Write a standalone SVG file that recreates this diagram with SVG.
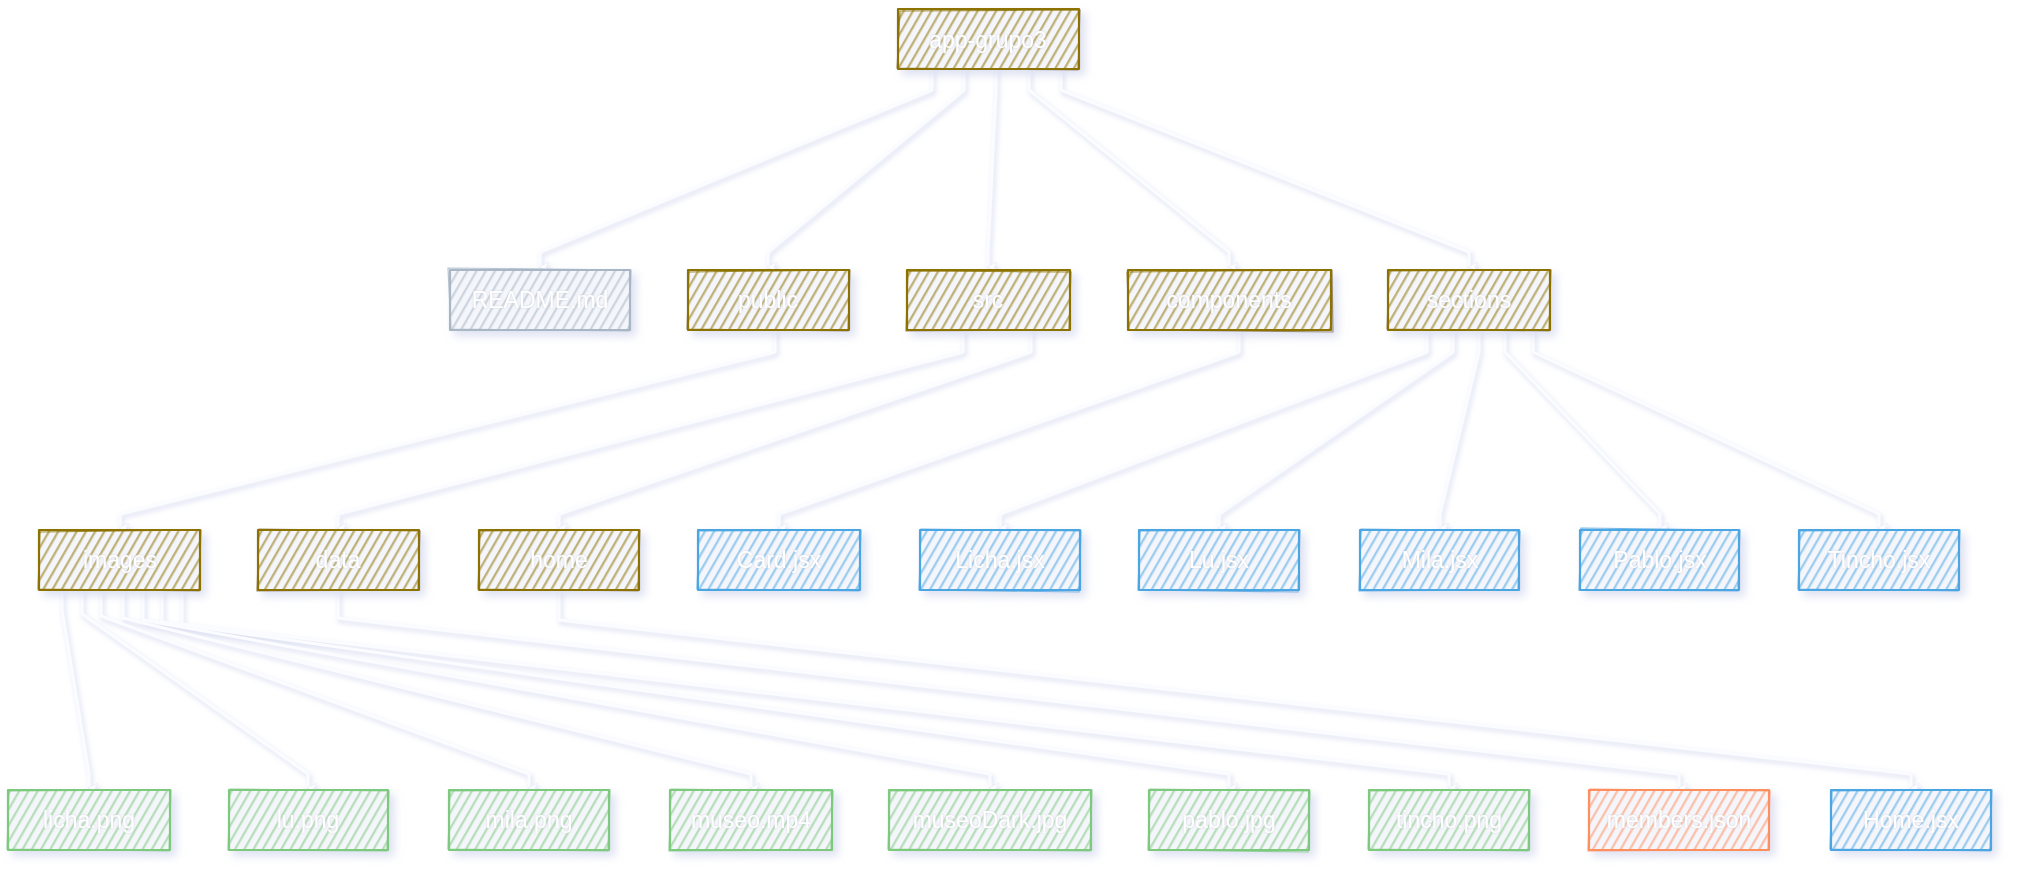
<svg xmlns="http://www.w3.org/2000/svg" width="2024" height="886" viewBox="0 0 2024 886">
<style>
.box{stroke-width:2.2;stroke-linejoin:round}
.box2{fill:none;stroke-width:1.2;opacity:.8}
.folder{stroke:#8c7200}
.gray{stroke:#a8b6c5}
.blue{stroke:#4ba6e2}
.green{stroke:#7dc97d}
.orange{stroke:#ff8f5e}
.lbl{font-family:"Liberation Sans","DejaVu Sans",sans-serif;font-size:23px;fill:#ffffff;text-anchor:middle;dominant-baseline:central}
.edge{fill:none;stroke:#fbfcff;stroke-width:3;stroke-linecap:round;stroke-linejoin:round}
</style>
<defs>
<filter id="sh" x="-20%" y="-30%" width="150%" height="170%">
<feDropShadow dx="5" dy="5" stdDeviation="4" flood-color="#c3c9e6" flood-opacity="0.55"/>
</filter>
<filter id="esh" x="-10%" y="-10%" width="120%" height="130%">
<feDropShadow dx="2" dy="3" stdDeviation="2.5" flood-color="#bcc3e6" flood-opacity="0.6"/>
</filter>
<filter id="tsh" x="-10%" y="-30%" width="120%" height="160%">
<feDropShadow dx="0" dy="0" stdDeviation="1.2" flood-color="#cfd2dc" flood-opacity="0.9"/>
</filter>
<pattern id="hf" width="8" height="8" patternUnits="userSpaceOnUse" patternTransform="rotate(30)"><rect width="8" height="8" fill="#f5f6fb"/><line x1="4" y1="0" x2="4" y2="8" stroke="#8c7200" stroke-width="1"/><line x1="5" y1="0" x2="5.4" y2="8" stroke="#8c7200" stroke-width="0.5" opacity=".5"/></pattern>
<pattern id="hg" width="8" height="8" patternUnits="userSpaceOnUse" patternTransform="rotate(30)"><rect width="8" height="8" fill="#f5f6fb"/><line x1="4" y1="0" x2="4" y2="8" stroke="#a8b6c5" stroke-width="1"/><line x1="5" y1="0" x2="5.4" y2="8" stroke="#a8b6c5" stroke-width="0.5" opacity=".5"/></pattern>
<pattern id="hb" width="8" height="8" patternUnits="userSpaceOnUse" patternTransform="rotate(30)"><rect width="8" height="8" fill="#f5f6fb"/><line x1="4" y1="0" x2="4" y2="8" stroke="#4ba6e2" stroke-width="1"/><line x1="5" y1="0" x2="5.4" y2="8" stroke="#4ba6e2" stroke-width="0.5" opacity=".5"/></pattern>
<pattern id="hgr" width="8" height="8" patternUnits="userSpaceOnUse" patternTransform="rotate(30)"><rect width="8" height="8" fill="#f5f6fb"/><line x1="4" y1="0" x2="4" y2="8" stroke="#7dc97d" stroke-width="1"/><line x1="5" y1="0" x2="5.4" y2="8" stroke="#7dc97d" stroke-width="0.5" opacity=".5"/></pattern>
<pattern id="ho" width="8" height="8" patternUnits="userSpaceOnUse" patternTransform="rotate(30)"><rect width="8" height="8" fill="#f5f6fb"/><line x1="4" y1="0" x2="4" y2="8" stroke="#ff8f5e" stroke-width="1"/><line x1="5" y1="0" x2="5.4" y2="8" stroke="#ff8f5e" stroke-width="0.5" opacity=".5"/></pattern>
<marker id="ar" viewBox="0 0 12 12" refX="6" refY="10" markerWidth="12" markerHeight="12" markerUnits="userSpaceOnUse" orient="auto-start-reverse">
<path d="M1,1 L6,11 L11,1 L6,4 Z" fill="#ffffff" stroke="#eceef8" stroke-width="0.8"/>
</marker>
</defs>

<g id="connectors" filter="url(#esh)">
<path class="edge" marker-end="url(#ar)" d="M932 70 L932 90 L540 252 L540 267"/>
<path class="edge" marker-end="url(#ar)" d="M964 70 L964 90 L768 252 L768 267"/>
<path class="edge" marker-end="url(#ar)" d="M996 70 L996 90 L988 252 L988 267"/>
<path class="edge" marker-end="url(#ar)" d="M1029 70 L1029 90 L1229 252 L1229 267"/>
<path class="edge" marker-end="url(#ar)" d="M1061 70 L1061 90 L1469 252 L1469 267"/>
<path class="edge" marker-end="url(#ar)" d="M775 331 L775 352 L120 514 L120 528"/>
<path class="edge" marker-end="url(#ar)" d="M963 331 L963 352 L338 514 L338 528"/>
<path class="edge" marker-end="url(#ar)" d="M1031 331 L1031 352 L559 514 L559 528"/>
<path class="edge" marker-end="url(#ar)" d="M1239 331 L1239 352 L779 514 L779 528"/>
<path class="edge" marker-end="url(#ar)" d="M1427 331 L1427 352 L1000 514 L1000 528"/>
<path class="edge" marker-end="url(#ar)" d="M1453 331 L1453 352 L1219 514 L1219 528"/>
<path class="edge" marker-end="url(#ar)" d="M1479 331 L1479 352 L1440 514 L1440 528"/>
<path class="edge" marker-end="url(#ar)" d="M1505 331 L1505 352 L1660 514 L1660 528"/>
<path class="edge" marker-end="url(#ar)" d="M1533 331 L1533 352 L1879 514 L1879 528"/>
<path class="edge" marker-end="url(#ar)" d="M62 591 L62 610 L89 774 L89 788"/>
<path class="edge" marker-end="url(#ar)" d="M82 591 L82 614 L308 774 L308 788"/>
<path class="edge" marker-end="url(#ar)" d="M101 591 L101 616 L529 774 L529 788"/>
<path class="edge" marker-end="url(#ar)" d="M123 591 L123 618 L751 774 L751 788"/>
<path class="edge" marker-end="url(#ar)" d="M143 591 L143 620 L990 774 L990 788"/>
<path class="edge" marker-end="url(#ar)" d="M162 591 L162 622 L1229 774 L1229 788"/>
<path class="edge" marker-end="url(#ar)" d="M182 591 L182 624 L1449 774 L1449 788"/>
<path class="edge" marker-end="url(#ar)" d="M338 591 L338 618 L1679 774 L1679 788"/>
<path class="edge" marker-end="url(#ar)" d="M559 591 L559 620 L1911 774 L1911 788"/>
</g>

<g id="root" filter="url(#sh)">
<rect class="box folder" x="898" y="9" width="181" height="60" fill="url(#hf)"/>
<path class="box2 folder" d="M900 11 L1080 10 L1078 70 L897 68 Z"/>
<text class="lbl" x="988" y="40" filter="url(#tsh)">app-grupo3</text>
</g>

<g id="readme" filter="url(#sh)">
<rect class="box gray" x="450" y="270" width="180" height="60" fill="url(#hg)"/>
<path class="box2 gray" d="M448 268 L631 270 L629 331 L451 329 Z"/>
<text class="lbl" x="540" y="300" filter="url(#tsh)">README.md</text>
</g>
<g id="public" filter="url(#sh)">
<rect class="box folder" x="688" y="270" width="161" height="60" fill="url(#hf)"/>
<path class="box2 folder" d="M689 272 L850 270 L848 331 L687 329 Z"/>
<text class="lbl" x="768" y="300" filter="url(#tsh)">public</text>
</g>
<g id="src" filter="url(#sh)">
<rect class="box folder" x="907" y="270" width="163" height="60" fill="url(#hf)"/>
<path class="box2 folder" d="M908 271 L1071 272 L1069 330 L906 331 Z"/>
<text class="lbl" x="988" y="300" filter="url(#tsh)">src</text>
</g>
<g id="components" filter="url(#sh)">
<rect class="box folder" x="1128" y="270" width="203" height="60" fill="url(#hf)"/>
<path class="box2 folder" d="M1127 272 L1332 270 L1333 332 L1129 330 Z"/>
<text class="lbl" x="1229" y="300" filter="url(#tsh)">components</text>
</g>
<g id="sections" filter="url(#sh)">
<rect class="box folder" x="1388" y="270" width="162" height="60" fill="url(#hf)"/>
<path class="box2 folder" d="M1389 271 L1551 270 L1549 331 L1387 329 Z"/>
<text class="lbl" x="1469" y="300" filter="url(#tsh)">sections</text>
</g>

<g id="images" filter="url(#sh)">
<rect class="box folder" x="39" y="530" width="161" height="60" fill="url(#hf)"/>
<path class="box2 folder" d="M40 532 L201 530 L199 591 L38 589 Z"/>
<text class="lbl" x="120" y="560" filter="url(#tsh)">images</text>
</g>
<g id="data" filter="url(#sh)">
<rect class="box folder" x="258" y="530" width="161" height="60" fill="url(#hf)"/>
<path class="box2 folder" d="M259 529 L420 531 L418 590 L257 591 Z"/>
<text class="lbl" x="338" y="560" filter="url(#tsh)">data</text>
</g>
<g id="home" filter="url(#sh)">
<rect class="box folder" x="479" y="530" width="160" height="60" fill="url(#hf)"/>
<path class="box2 folder" d="M480 531 L640 530 L638 591 L478 589 Z"/>
<text class="lbl" x="559" y="560" filter="url(#tsh)">home</text>
</g>
<g id="card" filter="url(#sh)">
<rect class="box blue" x="698" y="530" width="162" height="60" fill="url(#hb)"/>
<path class="box2 blue" d="M699 531 L861 530 L859 591 L697 589 Z"/>
<text class="lbl" x="779" y="560" filter="url(#tsh)">Card.jsx</text>
</g>
<g id="licha-jsx" filter="url(#sh)">
<rect class="box blue" x="920" y="530" width="160" height="60" fill="url(#hb)"/>
<path class="box2 blue" d="M921 529 L1081 531 L1079 592 L919 590 Z"/>
<text class="lbl" x="1000" y="560" filter="url(#tsh)">Licha.jsx</text>
</g>
<g id="lu-jsx" filter="url(#sh)">
<rect class="box blue" x="1139" y="530" width="160" height="60" fill="url(#hb)"/>
<path class="box2 blue" d="M1140 531 L1300 530 L1298 592 L1138 590 Z"/>
<text class="lbl" x="1219" y="560" filter="url(#tsh)">Lu.jsx</text>
</g>
<g id="mila-jsx" filter="url(#sh)">
<rect class="box blue" x="1360" y="530" width="159" height="60" fill="url(#hb)"/>
<path class="box2 blue" d="M1361 529 L1520 531 L1518 590 L1359 591 Z"/>
<text class="lbl" x="1440" y="560" filter="url(#tsh)">Mila.jsx</text>
</g>
<g id="pablo-jsx" filter="url(#sh)">
<rect class="box blue" x="1580" y="530" width="159" height="60" fill="url(#hb)"/>
<path class="box2 blue" d="M1581 528 L1740 530 L1738 591 L1579 590 Z"/>
<text class="lbl" x="1660" y="560" filter="url(#tsh)">Pablo.jsx</text>
</g>
<g id="tincho-jsx" filter="url(#sh)">
<rect class="box blue" x="1799" y="530" width="160" height="60" fill="url(#hb)"/>
<path class="box2 blue" d="M1800 531 L1960 530 L1958 591 L1798 589 Z"/>
<text class="lbl" x="1879" y="560" filter="url(#tsh)">Tincho.jsx</text>
</g>

<g id="licha-png" filter="url(#sh)">
<rect class="box green" x="8" y="790" width="162" height="60" fill="url(#hgr)"/>
<path class="box2 green" d="M9 791 L171 790 L169 851 L7 849 Z"/>
<text class="lbl" x="89" y="820" filter="url(#tsh)">licha.png</text>
</g>
<g id="lu-png" filter="url(#sh)">
<rect class="box green" x="229" y="790" width="159" height="60" fill="url(#hgr)"/>
<path class="box2 green" d="M230 789 L389 791 L387 851 L228 850 Z"/>
<text class="lbl" x="308" y="820" filter="url(#tsh)">lu.png</text>
</g>
<g id="mila-png" filter="url(#sh)">
<rect class="box green" x="449" y="790" width="160" height="60" fill="url(#hgr)"/>
<path class="box2 green" d="M450 791 L610 790 L608 851 L448 849 Z"/>
<text class="lbl" x="529" y="820" filter="url(#tsh)">mila.png</text>
</g>
<g id="museo-mp4" filter="url(#sh)">
<rect class="box green" x="670" y="790" width="162" height="60" fill="url(#hgr)"/>
<path class="box2 green" d="M671 789 L833 791 L831 850 L669 851 Z"/>
<text class="lbl" x="751" y="820" filter="url(#tsh)">museo.mp4</text>
</g>
<g id="museodark-jpg" filter="url(#sh)">
<rect class="box green" x="889" y="790" width="202" height="60" fill="url(#hgr)"/>
<path class="box2 green" d="M890 791 L1092 790 L1090 851 L888 849 Z"/>
<text class="lbl" x="990" y="820" filter="url(#tsh)">museoDark.jpg</text>
</g>
<g id="pablo-jpg" filter="url(#sh)">
<rect class="box green" x="1149" y="790" width="160" height="60" fill="url(#hgr)"/>
<path class="box2 green" d="M1150 789 L1310 791 L1308 852 L1148 850 Z"/>
<text class="lbl" x="1229" y="820" filter="url(#tsh)">pablo.jpg</text>
</g>
<g id="tincho-png" filter="url(#sh)">
<rect class="box green" x="1369" y="790" width="160" height="60" fill="url(#hgr)"/>
<path class="box2 green" d="M1370 791 L1530 790 L1528 851 L1368 849 Z"/>
<text class="lbl" x="1449" y="820" filter="url(#tsh)">tincho.png</text>
</g>
<g id="members-json" filter="url(#sh)">
<rect class="box orange" x="1589" y="790" width="180" height="60" fill="url(#ho)"/>
<path class="box2 orange" d="M1590 789 L1770 791 L1768 850 L1588 851 Z"/>
<text class="lbl" x="1679" y="820" filter="url(#tsh)">members.json</text>
</g>
<g id="home-jsx" filter="url(#sh)">
<rect class="box blue" x="1831" y="790" width="160" height="60" fill="url(#hb)"/>
<path class="box2 blue" d="M1832 791 L1992 790 L1990 851 L1830 849 Z"/>
<text class="lbl" x="1911" y="820" filter="url(#tsh)">Home.jsx</text>
</g>
</svg>
